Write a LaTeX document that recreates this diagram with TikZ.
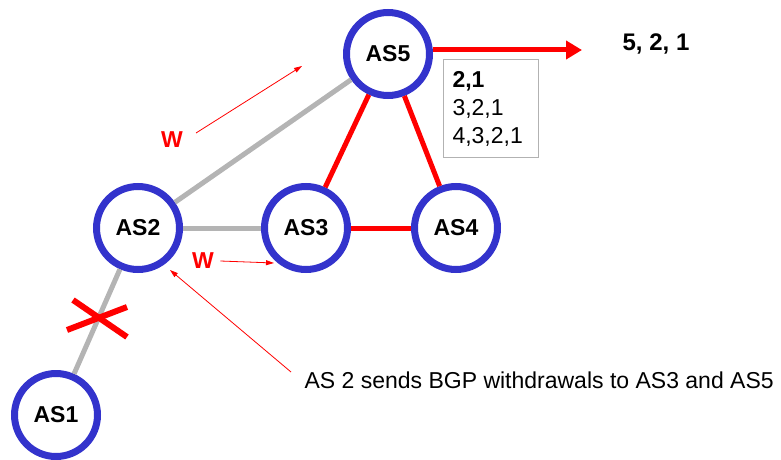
\documentclass[tikz,border=0pt]{standalone}
\usepackage{fontspec}
\setmainfont{Liberation Sans}
\usetikzlibrary{arrows.meta}
\definecolor{asblue}{RGB}{51,51,204}
\definecolor{linkgray}{RGB}{180,180,180}
\tikzset{
  asnode/.style={circle, draw=asblue, fill=white, line width=7pt, minimum size=83pt,
    inner sep=0pt, font=\fontsize{23}{23}\selectfont\bfseries},
  deadlink/.style={linkgray, line width=5pt},
  livelink/.style={red, line width=5pt},
  wlabel/.style={red, font=\fontsize{23}{23}\selectfont\bfseries},
  msgarrow/.style={red, line width=0.8pt, -{Triangle[length=8pt,width=5pt]}}
}
\begin{document}
\begin{tikzpicture}[x=1pt,y=-1pt]
  \useasboundingbox (0,0) rectangle (781,460);

  % autonomous systems
  \node[asnode] (AS5) at (388,54) {AS5};
  \node[asnode] (AS2) at (138,228) {AS2};
  \node[asnode] (AS3) at (306,228) {AS3};
  \node[asnode] (AS4) at (456,228) {AS4};
  \node[asnode] (AS1) at (56,415) {AS1};

  % links
  \draw[deadlink] (AS2) -- (AS5);
  \draw[deadlink] (AS2) -- (AS3);
  \draw[deadlink] (AS2) -- (AS1);
  \draw[livelink] (AS5) -- (AS3);
  \draw[livelink] (AS5) -- (AS4);
  \draw[livelink] (AS3) -- (AS4);

  % broken link
  \draw[red, line width=6pt] (73,300) -- (127,337);
  \draw[red, line width=6pt] (67,330) -- (127,307);

  % announcement out of AS5
  \coordinate (out) at (582,50);
  \draw[red, line width=5pt, -{Triangle[length=16pt,width=18pt]}] (AS5.east |- out) -- (out);
  \node[font=\fontsize{24}{24}\selectfont\bfseries] (path) at (656,44) {5, 2, 1};

  % AS5 routing table
  \node[draw=gray!60, line width=1pt, align=left, anchor=north west, inner xsep=9pt, inner ysep=0pt,
    text width=77pt, minimum height=98pt, font=\fontsize{23}{28}\selectfont] (table) at (443,59)
    {\textbf{2,1}\\3,2,1\\4,3,2,1};

  % withdrawals
  \node[wlabel] (w5) at (172,140) {W};
  \node[wlabel] (w3) at (203,261) {W};
  \coordinate (w5tip) at (302,66);
  \coordinate (w3tip) at (274,263);
  \draw[msgarrow] (196,133) -- (w5tip);
  \draw[msgarrow] (w3.east) ++(3,0) -- (w3tip);

  % note
  \node[anchor=west, font=\fontsize{23}{23}\selectfont] (note) at (301,380)
    {AS 2 sends BGP withdrawals to AS3 and AS5};
  \coordinate (notetip) at (170,270);
  \draw[msgarrow] (291,372) -- (notetip);
\end{tikzpicture}
\end{document}
